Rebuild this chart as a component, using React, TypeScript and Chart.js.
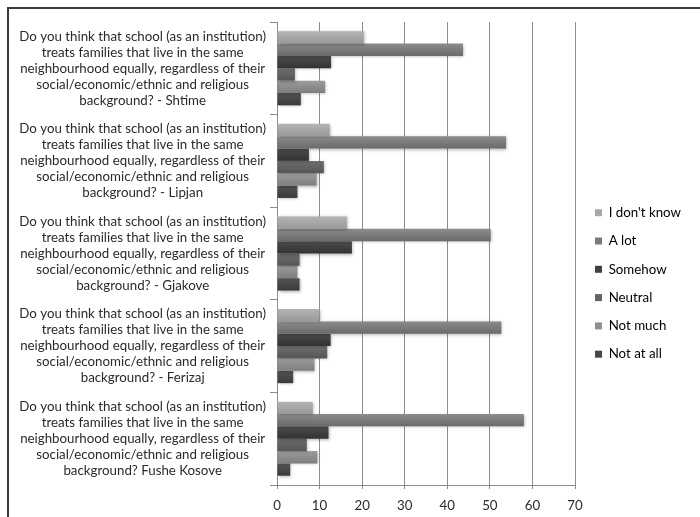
import React, { useEffect, useRef } from "react";
import { Chart, registerables } from "chart.js";

Chart.register(...registerables);

const questionLines = [
  "Do you think that school (as an institution)",
  "treats families that live in the same",
  "neighbourhood equally, regardless of their",
  "social/economic/ethnic and religious",
];
const lastLines = [
  "background? - Shtime",
  "background? - Lipjan",
  "background? - Gjakove",
  "background? - Ferizaj",
  "background? Fushe Kosove",
];
const categories = lastLines.map((l) => [...questionLines, l]);

const seriesNames = ["I don't know", "A lot", "Somehow", "Neutral", "Not much", "Not at all"];
const dontKnow = [20.4, 12.4, 16.4, 10.0, 8.4];
const aLot = [43.7, 53.8, 50.2, 52.7, 58.0];
const somehow = [12.7, 7.5, 17.6, 12.6, 12.1];
const neutral = [4.2, 11.0, 5.3, 11.8, 7.0];
const notMuch = [11.3, 9.3, 4.8, 8.8, 9.5];
const notAtAll = [5.6, 4.8, 5.3, 3.8, 3.1];
const seriesValues = [dontKnow, aLot, somehow, neutral, notMuch, notAtAll];

const xTicks = [0, 10, 20, 30, 40, 50, 60, 70];

const gradTop = ["#b4b4b4", "#8c8c8c", "#4c4c4c", "#6e6e6e", "#9c9c9c", "#545454"];
const gradBottom = ["#989898", "#6a6a6a", "#333333", "#555555", "#7e7e7e", "#3a3a3a"];
const legendColors = ["#a8a8a8", "#7a7a7a", "#404040", "#646464", "#909090", "#484848"];

const CAT_PCT = 0.8;
const FONT = 13.3;

const legendPlacer = {
  id: "legendPlacer",
  afterLayout(chart: any) {
    const l = chart.legend;
    if (!l) return;
    const pad = l.options.labels.padding;
    l.left = 595 - pad;
    l.right = 700;
    l.width = l.right - l.left;
    l.top = 212.7 - FONT / 2 - pad;
    l.bottom = 517;
    l.height = l.bottom - l.top;
  },
};

const barShadow = {
  id: "barShadow",
  beforeDatasetsDraw(chart: any) {
    const ctx = chart.ctx;
    ctx.save();
    ctx.shadowColor = "rgba(0,0,0,0.3)";
    ctx.shadowBlur = 3;
    ctx.shadowOffsetX = 1;
    ctx.shadowOffsetY = 1;
  },
  afterDatasetsDraw(chart: any) {
    chart.ctx.restore();
  },
};

export default function App() {
  const ref = useRef<HTMLCanvasElement>(null);
  useEffect(() => {
    if (!ref.current) return;
    Chart.defaults.font.family = "Lato";
    Chart.defaults.color = "#2a2a2a";
    const chart = new Chart(ref.current, {
      type: "bar",
      data: {
        labels: categories,
        datasets: seriesValues.map((vals, i) => ({
          label: seriesNames[i],
          data: vals,
          borderWidth: 0,
          categoryPercentage: CAT_PCT,
          barPercentage: 1.0,
          backgroundColor: (ctx: any) => {
            const c = ctx.chart;
            const ys = c.scales && c.scales.y;
            if (!ys || ctx.type !== "data" || !ys.height) return legendColors[i];
            const catH = ys.height / categories.length;
            const barH = (catH * CAT_PCT) / seriesValues.length;
            const center = ys.getPixelForValue(ctx.dataIndex);
            const top = center - (catH * CAT_PCT) / 2 + ctx.datasetIndex * barH;
            const g = c.ctx.createLinearGradient(0, top, 0, top + barH);
            g.addColorStop(0, gradTop[i]);
            g.addColorStop(1, gradBottom[i]);
            return g;
          },
        })),
      },
      options: {
        indexAxis: "y",
        responsive: false,
        animation: false,
        layout: { padding: { left: 0, top: 22, right: 125, bottom: 0 } },
        scales: {
          x: {
            min: 0,
            max: 70,
            afterBuildTicks: (s: any) => {
              s.ticks = xTicks.map((v) => ({ value: v }));
            },
            afterFit: (s: any) => {
              s.height = 32;
              s.paddingLeft = 0;
              s.paddingRight = 0;
            },
            grid: { color: "#8c8c8c", tickLength: 4, lineWidth: 1 },
            border: { color: "#8c8c8c" },
            ticks: { font: { size: FONT, lineHeight: 1.2 }, color: "#2a2a2a", padding: 9 },
          },
          y: {
            afterFit: (s: any) => {
              s.width = 277;
              s.paddingTop = 0;
              s.paddingBottom = 0;
            },
            grid: { drawOnChartArea: false, offset: true, tickLength: 7, color: "#8c8c8c" },
            border: { color: "#8c8c8c" },
            ticks: {
              crossAlign: "center",
              padding: 4,
              autoSkip: false,
              font: { size: FONT, lineHeight: 16 / FONT },
              color: "#2a2a2a",
            },
          },
        },
        plugins: {
          tooltip: { enabled: false },
          legend: {
            position: "chartArea",
            align: "start",
            labels: {
              boxWidth: 7,
              boxHeight: 7,
              padding: 28.3 - FONT,
              font: { size: FONT },
              color: "#2a2a2a",
              generateLabels: () =>
                seriesNames.map((n, i) => ({
                  text: n,
                  fillStyle: legendColors[i],
                  strokeStyle: legendColors[i],
                  lineWidth: 0,
                  hidden: false,
                  datasetIndex: i,
                })),
            },
          },
        },
      },
      plugins: [legendPlacer, barShadow],
    } as any);
    return () => chart.destroy();
  }, []);
  return (
    <div style={{ position: "fixed", left: 0, top: 0, width: 700, height: 517, background: "#fff" }}>
      <canvas ref={ref} width={700} height={517} style={{ display: "block", position: "absolute", left: 0, top: 0 }} />
      <div
        style={{
          position: "absolute",
          left: 7,
          top: 7,
          right: 0,
          bottom: 0,
          borderTop: "2px solid #3c3c3c",
          borderLeft: "2px solid #3c3c3c",
          pointerEvents: "none",
        }}
      />
    </div>
  );
}
